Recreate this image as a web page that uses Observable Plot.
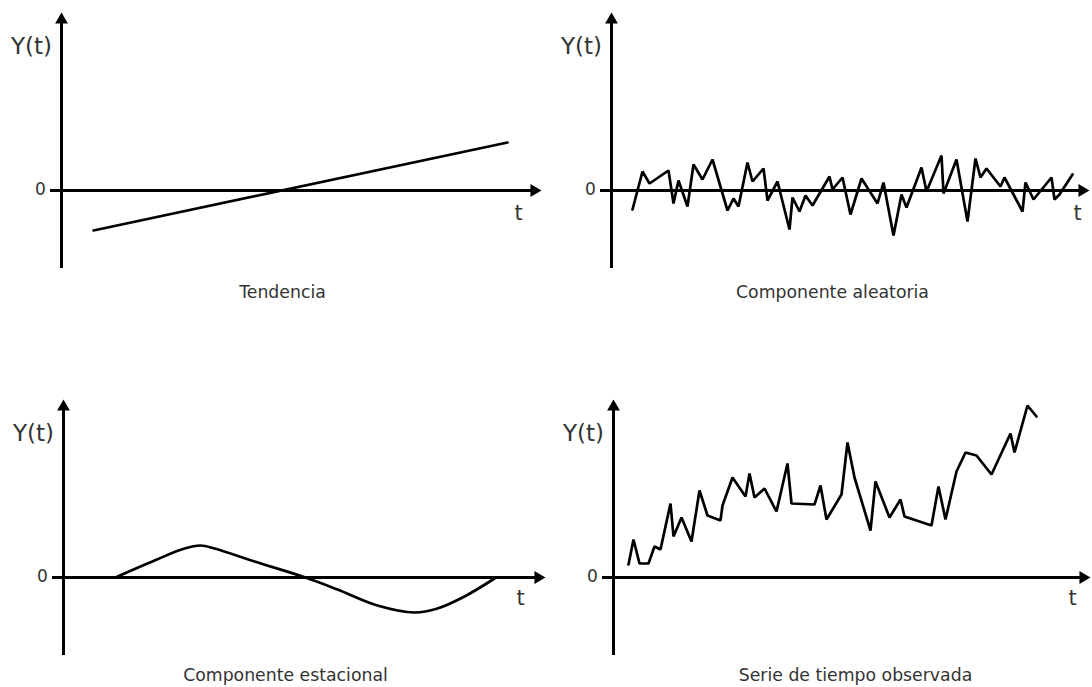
<!DOCTYPE html>
<html><head><meta charset="utf-8">
<script src="https://cdn.jsdelivr.net/npm/d3@7"></script>
<script src="https://cdn.jsdelivr.net/npm/@observablehq/plot@0.6"></script>
<style>
html,body{margin:0;padding:0;background:#fff;}
#wrap{position:relative;width:1092px;height:687px;overflow:hidden;background:#fff;}
.panel{position:absolute;}
</style></head><body><div id="wrap"></div>
<script>
// ---- data (t = time units, Y = value units; 0 at the axes origin) ----
const trendT = [32, 446];
const trendY = [-40, 48];

const randomT = [21,31,38,57,62,67,76,82,91,101,116,122,127,136,141,152,156,166,178,181,188,194,201,218,221,231,239,250,266,272,282,290,295,310,315,330,332,345,356,364,369,375,389,393,411,414,422,440,443,448,461];
const randomY = [-19,19,7,20,-13,10,-16,26,11,31,-20,-8,-16,28,9,22,-10,9,-39,-7,-21,-5,-15,14,1,13,-24,12,-13,8,-45,-4,-17,23,-1,35,-3,31,-31,32,13,22,4,13,-21,8,-9,13,-9,-4,16];

const seasonalT = [52,84,121,137,151,191,242,274,314,351,374,401,431];
const seasonalY = [0,14,29,32,29,16,0,-12,-28,-35,-31,-19,-1];

const observedT = [15,20,26,35,41,47,57,60,68,78,86,94,107,109,119,132,136,141,151,163,174,178,201,207,213,228,234,241,257,262,276,287,291,318,325,332,343,352,363,378,397,401,414,423];
const observedY = [13,38,14,14,31,28,74,41,60,36,87,62,57,72,100,81,104,80,89,66,114,74,73,92,58,83,135,100,47,96,60,78,61,52,91,58,106,125,122,103,144,125,172,161];

const captions = ["Tendencia", "Componente aleatoria", "Componente estacional", "Serie de tiempo observada"];
const yLabel = "Y(t)";
const xLabel = "t";
const zeroLabel = "0";

const zip = (T, Y) => T.map((t, i) => ({t, y: Y[i]}));

const panels = [
  {left: 0,   top: 0,   width: 546, height: 330, origin: 61, xEnd: 480, tX: 457, tY: -23, capX: 221, capY: -102, caption: captions[0], data: zip(trendT, trendY), curve: "linear"},
  {left: 550, top: 0,   width: 542, height: 330, origin: 61, xEnd: 478, tX: 466, tY: -23, capX: 221, capY: -102, caption: captions[1], data: zip(randomT, randomY), curve: "linear"},
  {left: 0,   top: 387, width: 546, height: 300, origin: 63, xEnd: 482, tX: 457, tY: -21, capX: 222, capY: -98, caption: captions[2], data: zip(seasonalT, seasonalY), curve: "catmull-rom"},
  {left: 550, top: 387, width: 542, height: 300, origin: 63, xEnd: 477, tX: 459, tY: -21, capX: 242, capY: -98, caption: captions[3], data: zip(observedT, observedY), curve: "linear"}
];

const yTop = 190;
const headOffset = 7.4;
const textColor = "#333";

const wrap = document.getElementById("wrap");
for (const p of panels) {
  const chart = Plot.plot({
    width: p.width,
    height: p.height,
    marginLeft: 0, marginRight: 0, marginTop: 0, marginBottom: 0,
    x: {domain: [-p.origin, p.width - p.origin], axis: null},
    y: {domain: [yTop - p.height, yTop], axis: null},
    style: {fontFamily: "DejaVu Sans", background: "white"},
    marks: [
      // axes
      Plot.ruleY([0], {x1: -11, x2: p.xEnd - 5, stroke: "black", strokeWidth: 3}),
      Plot.ruleX([0], {y1: -78, y2: 173, stroke: "black", strokeWidth: 3}),
      Plot.dot([0], {x: 0, y: 178 - headOffset, symbol: "triangle", r: 4.75, fill: "black", stroke: "none"}),
      Plot.dot([0], {x: p.xEnd - headOffset, y: 0, symbol: "triangle", r: 4.75, rotate: 90, fill: "black", stroke: "none"}),
      // series
      Plot.line(p.data, {x: "t", y: "y", stroke: "black", strokeWidth: 2.7, curve: p.curve, strokeLinejoin: "miter"}),
      // labels
      Plot.text([yLabel], {x: -30, y: 144, text: d => d, fontSize: 23, fill: textColor}),
      Plot.text([zeroLabel], {x: -21, y: 1, text: d => d, fontSize: 17, fill: textColor}),
      Plot.text([xLabel], {x: p.tX, y: p.tY, text: d => d, fontSize: 21, fill: textColor}),
      Plot.text([p.caption], {x: p.capX, y: p.capY, text: d => d, fontSize: 17.3, fill: textColor})
    ]
  });
  chart.classList.add("panel");
  chart.style.left = p.left + "px";
  chart.style.top = p.top + "px";
  wrap.appendChild(chart);
}
</script>
</body></html>
